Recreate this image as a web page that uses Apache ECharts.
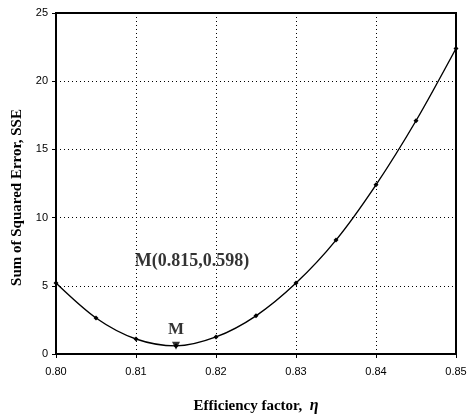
<!DOCTYPE html>
<html><head><meta charset="utf-8">
<script src="https://cdn.jsdelivr.net/npm/echarts@6/dist/echarts.min.js"></script>
<style>html,body{margin:0;padding:0;background:#fff}#c{width:473px;height:415px}</style>
</head><body><div id="c"></div>
<script>
const eta = [0.800, 0.805, 0.810, 0.815, 0.820, 0.825, 0.830, 0.835, 0.840, 0.845, 0.850];
const sse = [5.2, 2.64, 1.1, 0.598, 1.25, 2.8, 5.2, 8.35, 12.4, 17.1, 22.4];
const minPoint = [0.815, 0.598];
const annotText = 'M(0.815,0.598)';
const annotPos = [0.8170, 6.8];
const xTicks = [0.80, 0.81, 0.82, 0.83, 0.84, 0.85];
const yTicks = [0, 5, 10, 15, 20, 25];

const chart = echarts.init(document.getElementById('c'));
const serif = 'Liberation Serif';
const sans = 'Liberation Sans';
const titleStyle = {fontFamily: serif, fontWeight: 'bold', fontSize: 15, color: '#000'};
chart.setOption({
  animation: false,
  grid: {left: 56, right: 17, top: 13, bottom: 61, show: true, borderColor: '#000', borderWidth: 2, backgroundColor: 'transparent', outerBoundsMode: 'none', containLabel: false},
  xAxis: {
    type: 'value', min: 0.80, max: 0.85, interval: 0.01,
    name: 'Efficiency factor,  {i|η}', nameLocation: 'middle', nameGap: 44,
    nameTextStyle: Object.assign({}, titleStyle, {rich: {i: Object.assign({}, titleStyle, {fontStyle: 'italic', fontSize: 16})}}),
    axisLine: {show: true, lineStyle: {color: '#000', width: 2}},
    axisTick: {show: true, length: 4, lineStyle: {color: '#000'}},
    axisLabel: {fontFamily: sans, fontSize: 11, color: '#000', margin: 12, formatter: v => v.toFixed(2)},
    splitLine: {show: true, lineStyle: {color: '#000', type: [1, 3], width: 1}}
  },
  yAxis: {
    type: 'value', min: 0, max: 25, interval: 5,
    name: 'Sum of Squared Error, SSE', nameLocation: 'middle', nameGap: 31,
    nameTextStyle: Object.assign({}, titleStyle, {padding: [0, 28, 0, 0]}),
    axisLine: {show: true, lineStyle: {color: '#000', width: 2}},
    axisTick: {show: true, length: 4, lineStyle: {color: '#000'}},
    axisLabel: {fontFamily: sans, fontSize: 11, color: '#000', margin: 8},
    splitLine: {show: true, lineStyle: {color: '#000', type: [1, 3], width: 1}}
  },
  series: [
    {
      type: 'line', data: eta.map((x, i) => [x, sse[i]]), smooth: 0.3,
      symbol: 'diamond', symbolSize: 5, showAllSymbol: true,
      lineStyle: {color: '#000', width: 1.4}, itemStyle: {color: '#000'}
    },
    {
      type: 'scatter', data: [minPoint], symbol: 'triangle', symbolRotate: 180, symbolSize: 8,
      itemStyle: {color: '#000'},
      label: {show: true, formatter: 'M', position: 'top', distance: 4, fontFamily: serif, fontWeight: 'bold', fontSize: 17, color: '#000'}
    },
    {
      type: 'scatter', data: [annotPos], symbolSize: 0,
      label: {show: true, formatter: annotText, position: 'inside', fontFamily: serif, fontWeight: 'bold', fontSize: 18, color: '#000'}
    }
  ]
});
</script></body></html>
